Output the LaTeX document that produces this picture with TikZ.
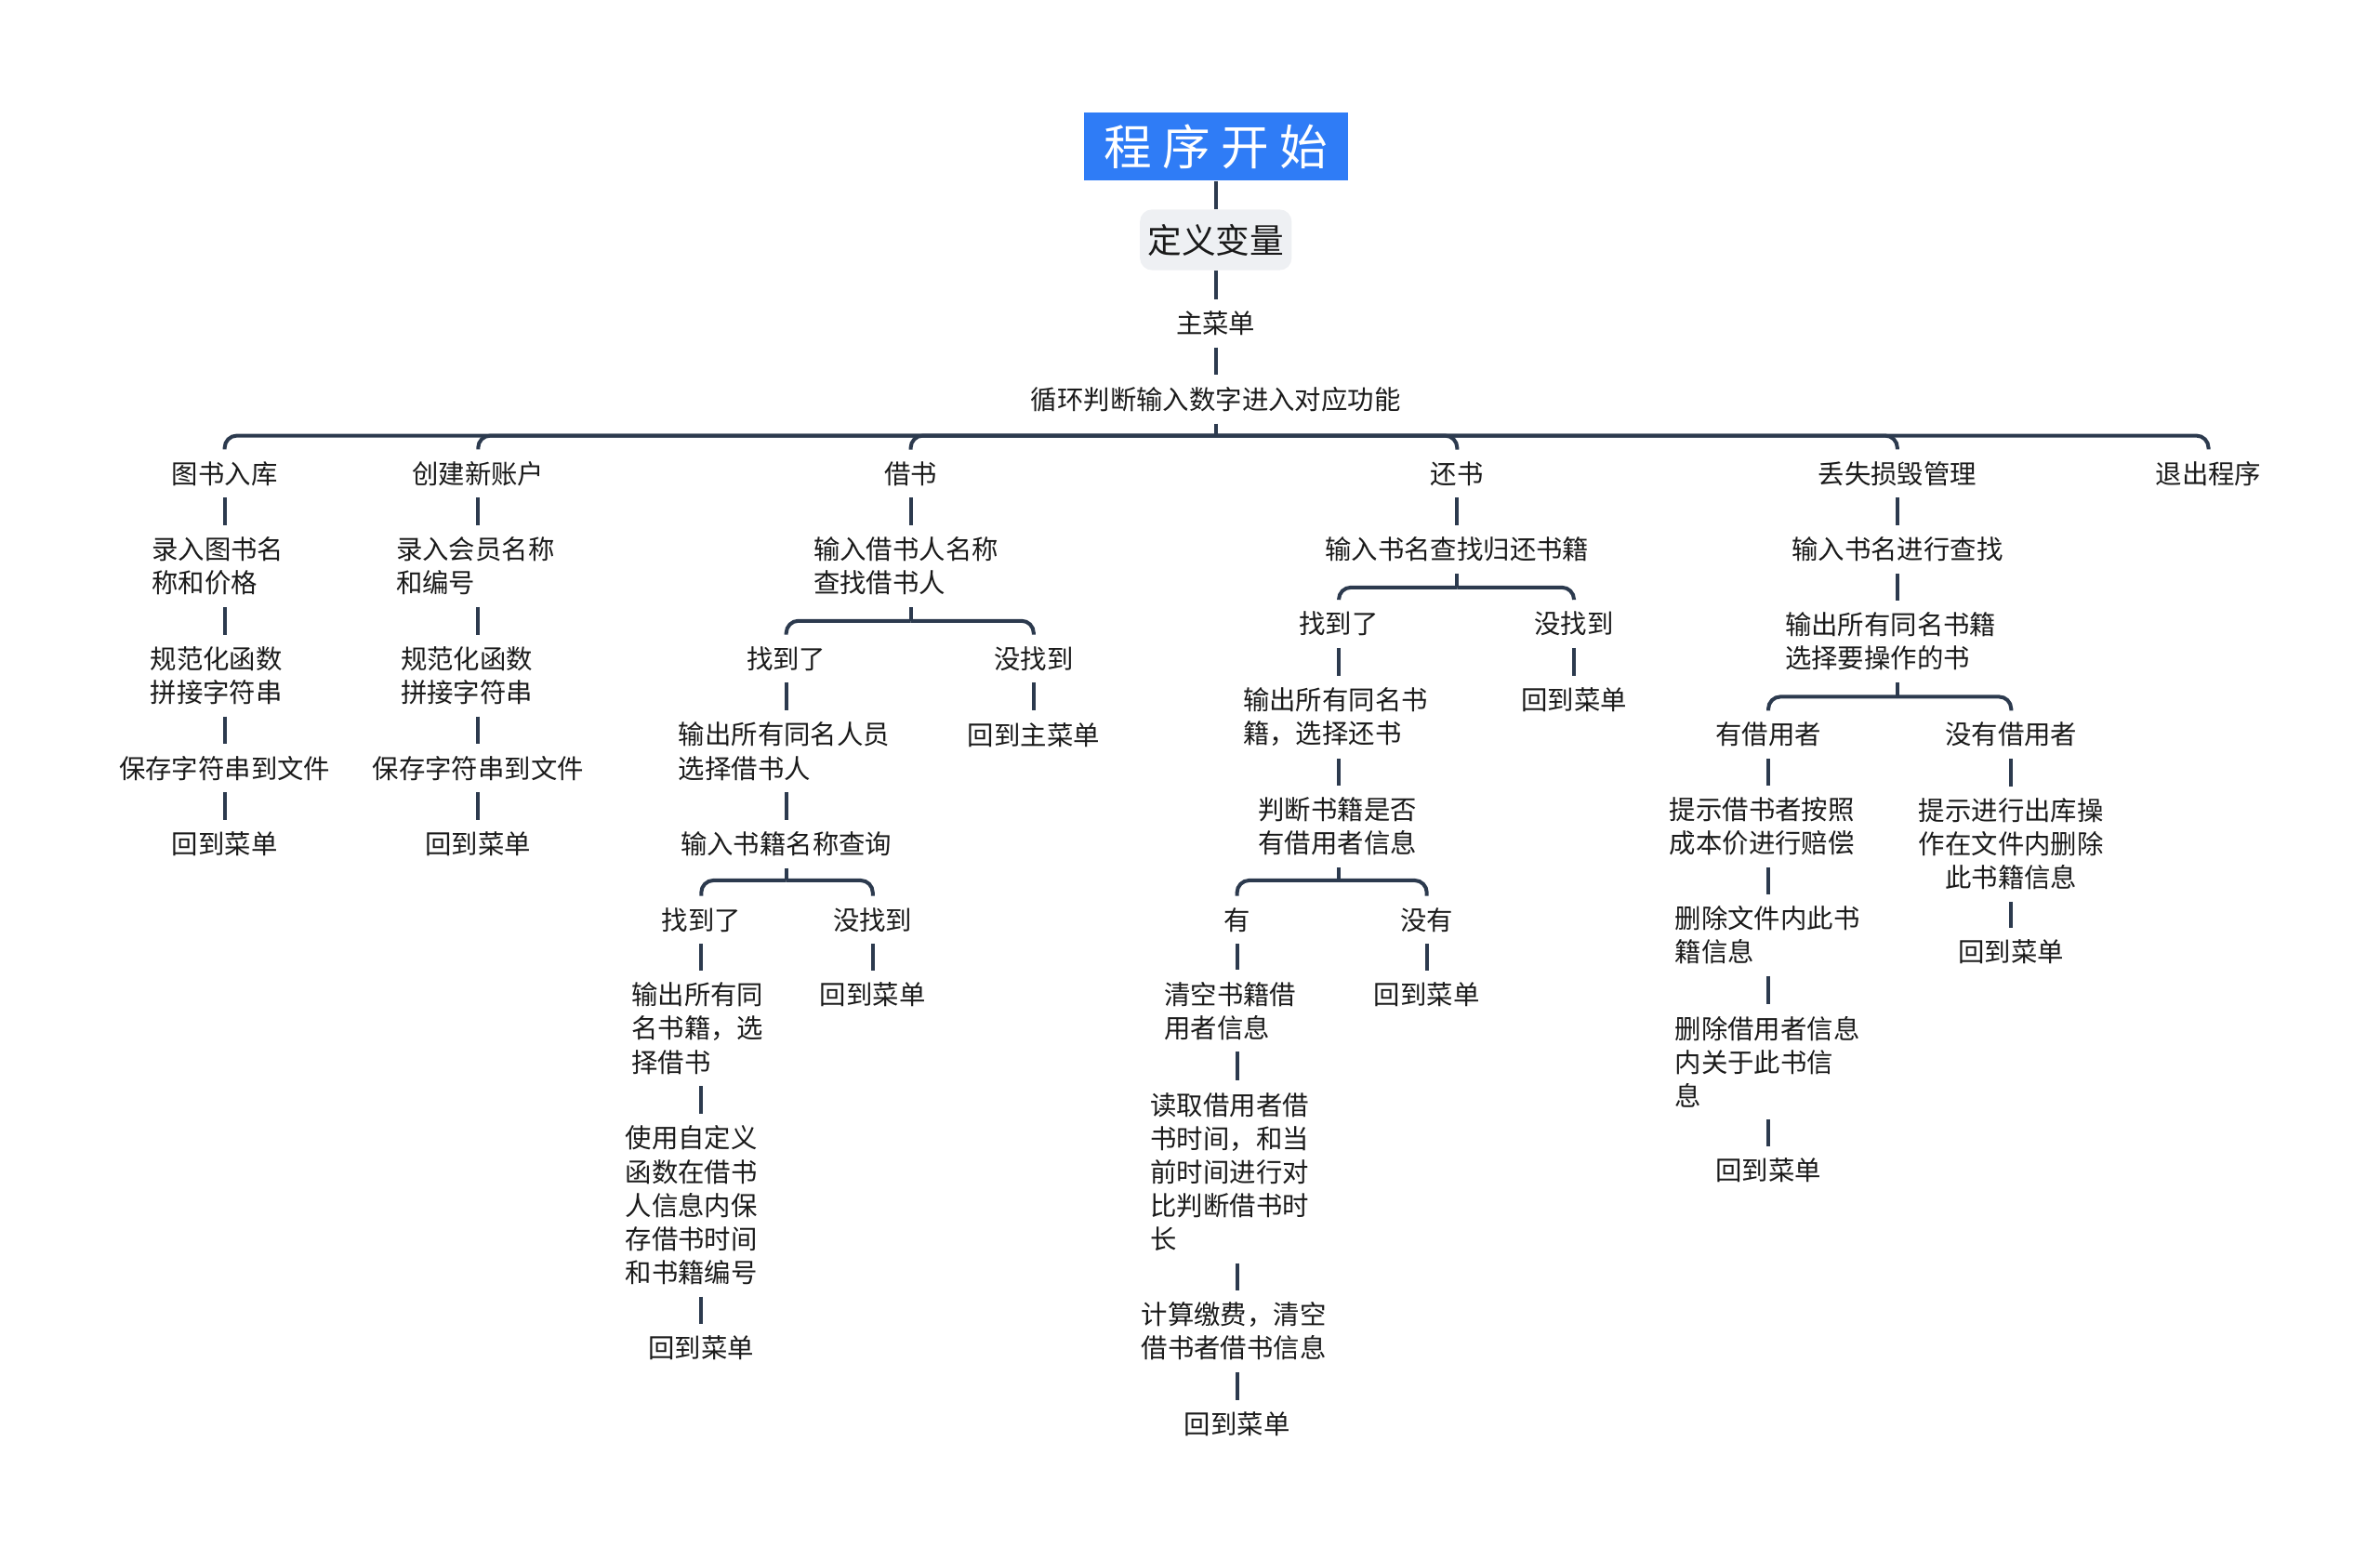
\documentclass[tikz,border=0pt]{standalone}
\usepackage{fontspec}
\setmainfont{Noto Sans CJK SC}
\definecolor{titleblue}{HTML}{2F7CF6}
\definecolor{boxgray}{HTML}{EEF0F3}
\definecolor{linec}{HTML}{2C3A4E}
\definecolor{textc}{HTML}{1A1A1A}

\begin{document}
\begin{tikzpicture}[x=0.02cm,y=-0.02cm,
		txt/.style={font=\fontsize{9.9}{12.6}\selectfont, text=textc, inner sep=0pt},
		wrap/.style={txt, text width=#1, align=left},
		conn/.style={draw=linec, line width=1.4pt},
		link/.style={conn, shorten <=0.15cm, shorten >=0.15cm},
		stem/.style={conn, shorten <=0.15cm},
		branch/.style={conn, rounded corners=0.16cm}]
		\useasboundingbox (0,0) rectangle (1568,1028);
		% Draw top of the tree
		\node [fill=titleblue, text=white, font=\fontsize{18}{20}\selectfont, minimum width=3.48cm, minimum height=0.9cm, inner sep=0pt] (title) at (801,96.5) {程 序 开 始};
		\node [fill=boxgray, rounded corners=0.16cm, font=\fontsize{12.8}{15}\selectfont, text=textc, minimum width=2cm, minimum height=0.8cm, inner sep=0pt] (defvar) at (801,158) {定义变量};
		\node [txt] (menu) at (801,213) {主菜单};
		\node [txt] (loop) at (801,263) {循环判断输入数字进入对应功能};
		\coordinate (b0) at (801,287);
		\draw [conn] (title) -- (defvar);
		\draw [conn, shorten >=0.15cm] (defvar) -- (menu);
		\draw [link] (menu) -- (loop);
		\draw [stem] (loop.south) -- (b0);
		% Draw first level
		\node [txt] (in1) at (148,312) {图书入库};
		\node [txt] (acc1) at (315,312) {创建新账户};
		\node [txt] (bor1) at (600,312) {借书};
		\node [txt] (ret1) at (960,312) {还书};
		\node [txt] (lost1) at (1250,312) {丢失损毁管理};
		\node [txt] (quit) at (1455,312) {退出程序};
		\draw [branch] (b0) -| ([yshift=0.15cm]in1.north);
		\draw [branch] (b0) -| ([yshift=0.15cm]acc1.north);
		\draw [branch] (b0) -| ([yshift=0.15cm]bor1.north);
		\draw [branch] (b0) -| ([yshift=0.15cm]ret1.north);
		\draw [branch] (b0) -| ([yshift=0.15cm]lost1.north);
		\draw [branch] (b0) -| ([yshift=0.15cm]quit.north);
		% Draw book input
		\node [wrap=1.92cm] (in2) at (148,373) {录入图书名\\称和价格};
		\node [wrap=1.96cm] (in3) at (148,445) {规范化函数\\拼接字符串};
		\node [txt] (in4) at (148,506) {保存字符串到文件};
		\node [txt] (in5) at (148,556) {回到菜单};
		\draw [link] (in1) -- (in2);
		\draw [link] (in2) -- (in3);
		\draw [link] (in3) -- (in4);
		\draw [link] (in4) -- (in5);
		% Draw new account
		\node [wrap=2.16cm] (acc2) at (315,373) {录入会员名称\\和编号};
		\node [wrap=2.04cm] (acc3) at (315,445) {规范化函数\\拼接字符串};
		\node [txt] (acc4) at (315,506) {保存字符串到文件};
		\node [txt] (acc5) at (315,556) {回到菜单};
		\draw [link] (acc1) -- (acc2);
		\draw [link] (acc2) -- (acc3);
		\draw [link] (acc3) -- (acc4);
		\draw [link] (acc4) -- (acc5);
		% Draw borrowing
		\node [wrap=2.56cm] (bor2) at (600,373) {输入借书人名称\\查找借书人};
		\coordinate (b1) at (600,409);
		\node [txt] (bor3) at (518,434) {找到了};
		\node [txt] (bor3n) at (681,434) {没找到};
		\node [wrap=2.84cm] (bor4) at (518,495) {输出所有同名人员\\选择借书人};
		\node [txt] (bor4n) at (681,484) {回到主菜单};
		\node [txt] (bor5) at (518,556) {输入书籍名称查询};
		\coordinate (b2) at (518,580);
		\node [txt] (bor6) at (462,606) {找到了};
		\node [txt] (bor6n) at (575,606) {没找到};
		\node [wrap=1.84cm] (bor7) at (462,677.5) {输出所有同\\名书籍，选\\择借书};
		\node [txt] (bor7n) at (575,655) {回到菜单};
		\node [wrap=2cm] (bor8) at (462,794) {使用自定义\\函数在借书\\人信息内保\\存借书时间\\和书籍编号};
		\node [txt] (bor9) at (462,888) {回到菜单};
		\draw [link] (bor1) -- (bor2);
		\draw [stem] (bor2.south) -- (b1);
		\draw [branch] (b1) -| ([yshift=0.15cm]bor3.north);
		\draw [branch] (b1) -| ([yshift=0.15cm]bor3n.north);
		\draw [link] (bor3) -- (bor4);
		\draw [link] (bor3n) -- (bor4n);
		\draw [link] (bor4) -- (bor5);
		\draw [stem] (bor5.south) -- (b2);
		\draw [branch] (b2) -| ([yshift=0.15cm]bor6.north);
		\draw [branch] (b2) -| ([yshift=0.15cm]bor6n.north);
		\draw [link] (bor6) -- (bor7);
		\draw [link] (bor6n) -- (bor7n);
		\draw [link] (bor7) -- (bor8);
		\draw [link] (bor8) -- (bor9);
		% Draw returning
		\node [txt] (ret2) at (960,362) {输入书名查找归还书籍};
		\coordinate (b3) at (960,387);
		\node [txt] (ret3) at (882,411) {找到了};
		\node [txt] (ret3n) at (1037,411) {没找到};
		\node [wrap=2.52cm] (ret4) at (882,472.5) {输出所有同名书\\籍，选择还书};
		\node [txt] (ret4n) at (1037,461) {回到菜单};
		\node [wrap=2.12cm] (ret5) at (882,544.5) {判断书籍是否\\有借用者信息};
		\coordinate (b4) at (882,580);
		\node [txt] (ret6) at (815,606) {有};
		\node [txt] (ret6n) at (940,606) {没有};
		\node [wrap=1.92cm] (ret7) at (815,666) {清空书籍借\\用者信息};
		\node [txt] (ret7n) at (940,655) {回到菜单};
		\node [wrap=2.28cm] (ret8) at (815,772) {读取借用者借\\书时间，和当\\前时间进行对\\比判断借书时\\长};
		\node [wrap=2.52cm] (ret9) at (815,877) {计算缴费，清空\\借书者借书信息};
		\node [txt] (ret10) at (815,938) {回到菜单};
		\draw [link] (ret1) -- (ret2);
		\draw [stem] (ret2.south) -- (b3);
		\draw [branch] (b3) -| ([yshift=0.15cm]ret3.north);
		\draw [branch] (b3) -| ([yshift=0.15cm]ret3n.north);
		\draw [link] (ret3) -- (ret4);
		\draw [link] (ret3n) -- (ret4n);
		\draw [link] (ret4) -- (ret5);
		\draw [stem] (ret5.south) -- (b4);
		\draw [branch] (b4) -| ([yshift=0.15cm]ret6.north);
		\draw [branch] (b4) -| ([yshift=0.15cm]ret6n.north);
		\draw [link] (ret6) -- (ret7);
		\draw [link] (ret6n) -- (ret7n);
		\draw [link] (ret7) -- (ret8);
		\draw [link] (ret8) -- (ret9);
		\draw [link] (ret9) -- (ret10);
		% Draw loss and damage
		\node [txt] (lost2) at (1250,362) {输入书名进行查找};
		\node [wrap=2.96cm] (lost3) at (1250,422.5) {输出所有同名书籍\\选择要操作的书};
		\coordinate (b5) at (1250,459);
		\node [txt] (lost4) at (1165,484) {有借用者};
		\node [txt] (lost4n) at (1325,484) {没有借用者};
		\node [wrap=2.6cm] (lost5) at (1165,544.5) {提示借书者按照\\成本价进行赔偿};
		\node [txt, text width=2.5cm, align=center] (lost5n) at (1325,556) {提示进行出库操\\作在文件内删除\\此书籍信息};
		\node [wrap=2.46cm] (lost6) at (1165,616) {删除文件内此书\\籍信息};
		\node [txt] (lost6n) at (1325,627) {回到菜单};
		\node [wrap=2.46cm] (lost7) at (1165,699.5) {删除借用者信息\\内关于此书信\\息};
		\node [txt] (lost8) at (1165,771) {回到菜单};
		\draw [link] (lost1) -- (lost2);
		\draw [link] (lost2) -- (lost3);
		\draw [stem] (lost3.south) -- (b5);
		\draw [branch] (b5) -| ([yshift=0.15cm]lost4.north);
		\draw [branch] (b5) -| ([yshift=0.15cm]lost4n.north);
		\draw [link] (lost4) -- (lost5);
		\draw [link] (lost4n) -- (lost5n);
		\draw [link] (lost5) -- (lost6);
		\draw [link] (lost5n) -- (lost6n);
		\draw [link] (lost6) -- (lost7);
		\draw [link] (lost7) -- (lost8);
	\end{tikzpicture}
\end{document}
